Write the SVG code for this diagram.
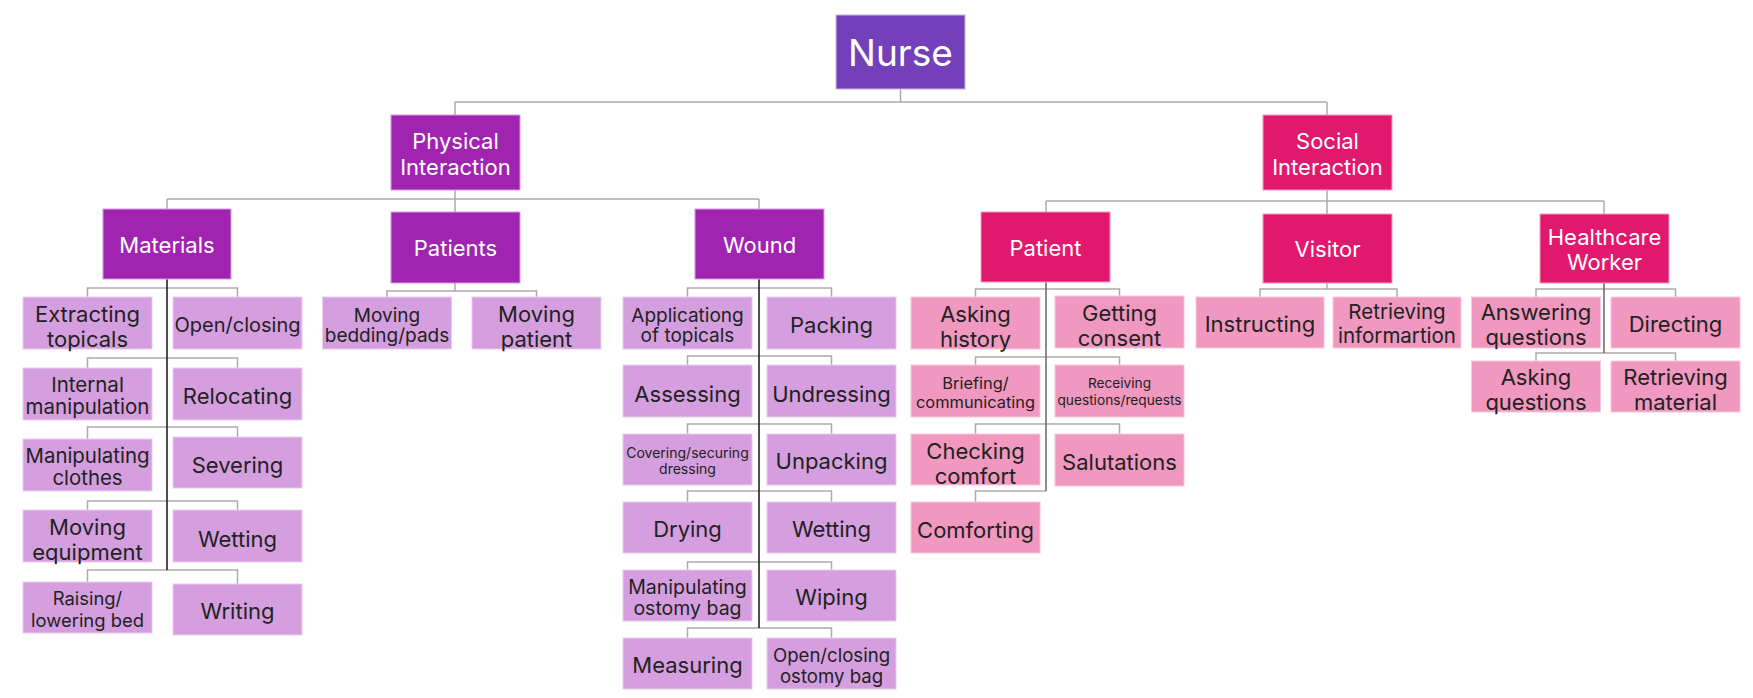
<svg xmlns="http://www.w3.org/2000/svg" width="1753" height="698" viewBox="0 0 1753 698">
<style>
text{font-family:Inter,"Open Sans","Liberation Sans",sans-serif;text-anchor:middle;}
.root{fill:#7340BA;stroke:#C9B3E8;stroke-width:1}
.phys{fill:#A024B0;stroke:#D49BDD;stroke-width:1}
.soc{fill:#E0196E;stroke:#F29BC0;stroke-width:1}
.lp{fill:#D59EDF;stroke:#E9CDEE;stroke-width:1}
.lk{fill:#F098BF;stroke:#F7C8DC;stroke-width:1}
.w{fill:#FFFFFF;font-size:22px}
.d{fill:#222222;font-size:22px}
.conn path{fill:none;stroke:#ABABAB;stroke-width:1.5}
.conn path.sp{stroke:#222222;stroke-width:1.6}
.conn path.sg{stroke:#666666;stroke-width:1.5}
</style>
<g id="connectors" class="conn">
<path d="M900.5 89V102M455 102H1327M455 102V115M1327 102V115"/>
<path d="M455 190V212M167 199H759M167 199V209M759 199V209"/>
<path d="M1327 190V214M1046 201H1604M1046 201V212M1604 201V214"/>
<path d="M87.5 297V288H237.5V297M87.5 368V358H237.5V368M87.5 439V427H237.5V437M87.5 510V501H237.5V510M87.5 582V570H237.5V584"/>
<path class="sp" d="M167 279V570"/>
<path d="M455 283V291M387 297V291H536.5V297"/>
<path d="M687.5 297V288H831.5V297M687.5 365V356H831.5V365M687.5 434V424H831.5V434M687.5 502V491H831.5V502M687.5 570V562H831.5V570M687.5 638V628H831.5V638"/>
<path class="sp" d="M759 279V628"/>
<path d="M975.5 297V289H1119.5V296M975.5 365V357H1119.5V365M975.5 434V424H1119.5V434M975.5 502V491H1046"/>
<path class="sg" d="M1046 282V491"/>
<path d="M1327 283V289M1260 297V289H1397V297"/>
<path d="M1536 297V289H1675.5V297M1536 361V353H1675.5V361"/>
<path class="sg" d="M1604 283V353"/>
</g>
<g id="nurse"><rect class="root" x="836" y="15" width="129" height="74"/><text class="w" x="900.5" y="66" style="font-size:37px">Nurse</text></g>
<g id="physical"><rect class="phys" x="391" y="115" width="129" height="75"/><text class="w" x="455.5" y="149">Physical</text><text class="w" x="455.5" y="175">Interaction</text></g>
<g id="social"><rect class="soc" x="1263" y="115" width="129" height="75"/><text class="w" x="1327.5" y="149">Social</text><text class="w" x="1327.5" y="175">Interaction</text></g>
<g id="materials"><rect class="phys" x="103" y="209" width="128" height="70"/><text class="w" x="167" y="253">Materials</text></g>
<g id="patients"><rect class="phys" x="391" y="212" width="129" height="71"/><text class="w" x="455.5" y="256">Patients</text></g>
<g id="wound"><rect class="phys" x="695" y="209" width="129" height="70"/><text class="w" x="759.5" y="253">Wound</text></g>
<g id="patient"><rect class="soc" x="981" y="212" width="129" height="70"/><text class="w" x="1045.5" y="256">Patient</text></g>
<g id="visitor"><rect class="soc" x="1263" y="214" width="129" height="69"/><text class="w" x="1327.5" y="257">Visitor</text></g>
<g id="hcw"><rect class="soc" x="1540" y="214" width="129" height="69"/><text class="w" x="1604.5" y="245">Healthcare</text><text class="w" x="1604.5" y="270">Worker</text></g>

<g id="m-extracting"><rect class="lp" x="23" y="297" width="129" height="52"/><text class="d" x="87.5" y="322">Extracting</text><text class="d" x="87.5" y="347">topicals</text></g>
<g id="m-openclosing"><rect class="lp" x="173" y="297" width="129" height="52"/><text class="d" x="237.5" y="332" style="font-size:20px">Open/closing</text></g>
<g id="m-internal"><rect class="lp" x="23" y="368" width="129" height="52"/><text class="d" x="87.5" y="392" style="font-size:20.5px">Internal</text><text class="d" x="87.5" y="414" style="font-size:20.5px">manipulation</text></g>
<g id="m-relocating"><rect class="lp" x="173" y="368" width="129" height="52"/><text class="d" x="237.5" y="404">Relocating</text></g>
<g id="m-clothes"><rect class="lp" x="23" y="439" width="129" height="52"/><text class="d" x="87.5" y="463" style="font-size:20.4px">Manipulating</text><text class="d" x="87.5" y="485" style="font-size:20.4px">clothes</text></g>
<g id="m-severing"><rect class="lp" x="173" y="437" width="129" height="51"/><text class="d" x="237.5" y="472.5">Severing</text></g>
<g id="m-equipment"><rect class="lp" x="23" y="510" width="129" height="52"/><text class="d" x="87.5" y="535">Moving</text><text class="d" x="87.5" y="560">equipment</text></g>
<g id="m-wetting"><rect class="lp" x="173" y="510" width="129" height="52"/><text class="d" x="237.5" y="546.5">Wetting</text></g>
<g id="m-bed"><rect class="lp" x="23" y="582" width="129" height="51"/><text class="d" x="87.5" y="605" style="font-size:18.4px">Raising/</text><text class="d" x="87.5" y="626.5" style="font-size:18.4px">lowering bed</text></g>
<g id="m-writing"><rect class="lp" x="173" y="584" width="129" height="51"/><text class="d" x="237.5" y="619">Writing</text></g>

<g id="p-bedding"><rect class="lp" x="322.5" y="297" width="129" height="52"/><text class="d" x="387" y="321.5" style="font-size:19px">Moving</text><text class="d" x="387" y="341.5" style="font-size:19px">bedding/pads</text></g>
<g id="p-patient"><rect class="lp" x="472" y="297" width="129" height="52"/><text class="d" x="536.5" y="322">Moving</text><text class="d" x="536.5" y="347">patient</text></g>

<g id="w-topicals"><rect class="lp" x="623" y="297" width="129" height="52"/><text class="d" x="687.5" y="321.5" style="font-size:19px">Applicationg</text><text class="d" x="687.5" y="341.5" style="font-size:19px">of topicals</text></g>
<g id="w-packing"><rect class="lp" x="767" y="297" width="129" height="52"/><text class="d" x="831.5" y="333">Packing</text></g>
<g id="w-assessing"><rect class="lp" x="623" y="365" width="129" height="52"/><text class="d" x="687.5" y="401.5">Assessing</text></g>
<g id="w-undressing"><rect class="lp" x="767" y="365" width="129" height="52"/><text class="d" x="831.5" y="401.5">Undressing</text></g>
<g id="w-covering"><rect class="lp" x="623" y="434" width="129" height="51"/><text class="d" x="687.5" y="458" style="font-size:14px">Covering/securing</text><text class="d" x="687.5" y="473.5" style="font-size:14px">dressing</text></g>
<g id="w-unpacking"><rect class="lp" x="767" y="434" width="129" height="51"/><text class="d" x="831.5" y="469">Unpacking</text></g>
<g id="w-drying"><rect class="lp" x="623" y="502" width="129" height="51"/><text class="d" x="687.5" y="537">Drying</text></g>
<g id="w-wetting"><rect class="lp" x="767" y="502" width="129" height="51"/><text class="d" x="831.5" y="537">Wetting</text></g>
<g id="w-ostomy"><rect class="lp" x="623" y="570" width="129" height="51"/><text class="d" x="687.5" y="594" style="font-size:19.5px">Manipulating</text><text class="d" x="687.5" y="615" style="font-size:19.5px">ostomy bag</text></g>
<g id="w-wiping"><rect class="lp" x="767" y="570" width="129" height="51"/><text class="d" x="831.5" y="605">Wiping</text></g>
<g id="w-measuring"><rect class="lp" x="623" y="638" width="129" height="51"/><text class="d" x="687.5" y="673">Measuring</text></g>
<g id="w-openclosing"><rect class="lp" x="767" y="638" width="129" height="51"/><text class="d" x="831.5" y="661.5" style="font-size:18.6px">Open/closing</text><text class="d" x="831.5" y="683" style="font-size:18.6px">ostomy bag</text></g>

<g id="s-history"><rect class="lk" x="911" y="297" width="129" height="52"/><text class="d" x="975.5" y="322">Asking</text><text class="d" x="975.5" y="347">history</text></g>
<g id="s-consent"><rect class="lk" x="1055" y="296" width="129" height="52"/><text class="d" x="1119.5" y="321">Getting</text><text class="d" x="1119.5" y="346">consent</text></g>
<g id="s-briefing"><rect class="lk" x="911" y="365" width="129" height="52"/><text class="d" x="975.5" y="388.5" style="font-size:16.4px">Briefing/</text><text class="d" x="975.5" y="407.5" style="font-size:16.4px">communicating</text></g>
<g id="s-receiving"><rect class="lk" x="1055" y="365" width="129" height="52"/><text class="d" x="1119.5" y="388" style="font-size:13.7px">Receiving</text><text class="d" x="1119.5" y="405" style="font-size:13.7px">questions/requests</text></g>
<g id="s-checking"><rect class="lk" x="911" y="434" width="129" height="51"/><text class="d" x="975.5" y="459">Checking</text><text class="d" x="975.5" y="483.5">comfort</text></g>
<g id="s-salutations"><rect class="lk" x="1055" y="434" width="129" height="52"/><text class="d" x="1119.5" y="470">Salutations</text></g>
<g id="s-comforting"><rect class="lk" x="911" y="502" width="129" height="51"/><text class="d" x="975.5" y="537.5">Comforting</text></g>

<g id="v-instructing"><rect class="lk" x="1196" y="297" width="128" height="51"/><text class="d" x="1260" y="332">Instructing</text></g>
<g id="v-retrieving"><rect class="lk" x="1333" y="297" width="128" height="51"/><text class="d" x="1397" y="319" style="font-size:20.5px">Retrieving</text><text class="d" x="1397" y="343" style="font-size:20.5px">informartion</text></g>

<g id="h-answering"><rect class="lk" x="1471.5" y="297" width="129" height="51"/><text class="d" x="1536" y="320">Answering</text><text class="d" x="1536" y="345">questions</text></g>
<g id="h-directing"><rect class="lk" x="1611" y="297" width="129" height="51"/><text class="d" x="1675.5" y="332">Directing</text></g>
<g id="h-asking"><rect class="lk" x="1471.5" y="361" width="129" height="51"/><text class="d" x="1536" y="385">Asking</text><text class="d" x="1536" y="410">questions</text></g>
<g id="h-material"><rect class="lk" x="1611" y="361" width="129" height="51"/><text class="d" x="1675.5" y="385">Retrieving</text><text class="d" x="1675.5" y="410">material</text></g>
</svg>
